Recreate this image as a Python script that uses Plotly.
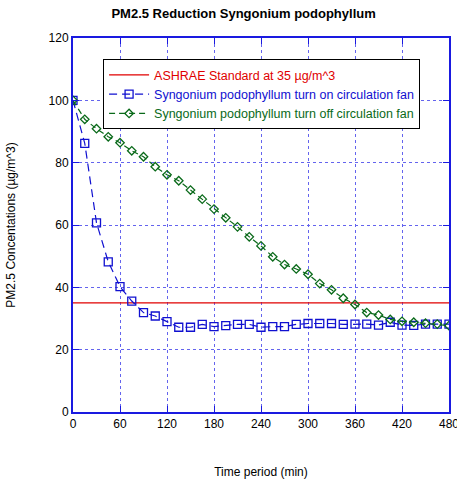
import plotly.graph_objects as go

time_min = list(range(0, 481, 15))
fan_on = [100, 86.2, 60.7, 48.2, 40.2, 35.6, 31.9, 30.8, 29.0, 27.2, 27.2, 28.1, 27.4, 27.7,
          28.1, 28.1, 27.2, 27.4, 27.4, 28.1, 28.4, 28.4, 28.4, 28.1, 28.2, 28.2, 27.9,
          28.8, 27.9, 27.8, 28.2, 28.2, 28.2]
fan_off = [100, 93.9, 90.9, 88.3, 86.4, 83.8, 81.9, 78.7, 76.1, 74.2, 71.2, 68.3, 65.1, 62.3,
           59.4, 56.2, 53.3, 49.8, 47.3, 45.9, 44.2, 41.2, 39.2, 36.5, 34.5, 31.9, 31.1,
           29.7, 29.1, 28.8, 28.5, 28.2, 27.7]
standard_x = [0, 480]
standard_y = [35, 35]
x_ticks = [0, 60, 120, 180, 240, 300, 360, 420, 480]
y_ticks = [0, 20, 40, 60, 80, 100, 120]

fig = go.Figure()
fig.add_trace(go.Scatter(
    x=standard_x, y=standard_y, mode="lines",
    line=dict(color="#e00000", width=1.2),
    name="<span style='color:#e00000'>ASHRAE Standard at 35 µg/m^3</span>"))
fig.add_trace(go.Scatter(
    x=time_min, y=fan_on, mode="lines+markers",
    line=dict(color="#1010d0", width=1.2, dash="8px,5px"),
    marker=dict(symbol="square-open", size=8, color="#1010d0", line=dict(width=1.3)),
    name="<span style='color:#1010d0'>Syngonium podophyllum turn on circulation fan</span>"))
fig.add_trace(go.Scatter(
    x=time_min, y=fan_off, mode="lines+markers",
    line=dict(color="#0a6a1a", width=1.2, dash="6px,4px"),
    marker=dict(symbol="diamond-open", size=6.5, color="#0a6a1a", line=dict(width=1.3)),
    name="<span style='color:#0a6a1a'>Syngonium podophyllum turn off circulation fan</span>"))

axis_common = dict(
    showline=True, linecolor="#1a1ae0", linewidth=2, mirror="ticks",
    ticks="inside", ticklen=6, tickcolor="#1a1ae0", tickwidth=1,
    showgrid=True, gridcolor="#6464ee", griddash="dot", gridwidth=1,
    zeroline=False, tickfont=dict(size=12, color="black"), automargin=False,
)

fig.update_layout(
    width=457, height=481,
    margin=dict(l=73, r=8, t=38, b=69),
    paper_bgcolor="white", plot_bgcolor="white",
    font=dict(family="Liberation Sans, Arial, sans-serif", size=12, color="black"),
    title=dict(text="<b>PM2.5 Reduction Syngonium podophyllum</b>", x=0.533, xanchor="center",
               y=0.972, yanchor="middle", font=dict(size=13)),
    xaxis=dict(range=[0, 480], tickvals=x_ticks, ticklabeloverflow="allow",
               title=dict(text="Time period (min)", standoff=37, font=dict(size=12)),
               **axis_common),
    yaxis=dict(range=[0, 120], tickvals=y_ticks,
               title=dict(text="PM2.5 Concentations (µg/m^3)", standoff=30, font=dict(size=12)),
               **axis_common),
    showlegend=True,
    legend=dict(x=0.08, y=0.943, xanchor="left", yanchor="top",
                bgcolor="white", bordercolor="black", borderwidth=1,
                font=dict(size=12.5), tracegroupgap=0, itemwidth=40,
                traceorder="normal"),
)

fig.write_html("out.html")
